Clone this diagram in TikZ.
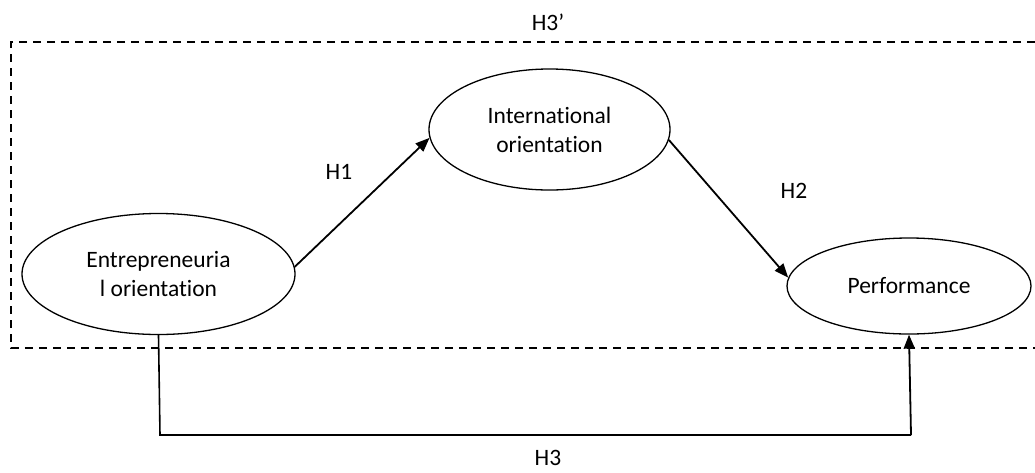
\documentclass[tikz,border=0pt]{standalone}
\usepackage{fontspec}
\setmainfont[Ligatures={NoCommon}]{Carlito}
\usetikzlibrary{shapes.geometric,arrows.meta}
\begin{document}
\begin{tikzpicture}[x=1pt,y=-1pt,
  construct/.style={ellipse,draw,line width=1.3pt,inner sep=0pt,align=center,
    font=\fontsize{23.5}{29}\selectfont},
  hlabel/.style={font=\fontsize{23.5}{28}\selectfont,inner sep=0pt},
  link/.style={line width=1.8pt,-{Triangle[length=14pt,width=11pt]}},
  frame/.style={line width=1.6pt,dash pattern=on 8pt off 6pt}]
\useasboundingbox (0,0) rectangle (1035,472);
\draw[frame] (1035,42) -- (11,42) -- (11,348) -- (1035,348);
\node[construct,minimum width=273pt,minimum height=121pt] (eo) at (158.5,274) {Entrepreneuria\\l orientation};
\node[construct,minimum width=241pt,minimum height=121pt] (io) at (549.5,129.5) {International\\orientation};
\node[construct,minimum width=244pt,minimum height=96pt] (perf) at (909,286) {Performance};
\draw[link] (eo.3) -- (io.184);
\draw[link] (io.-5) -- (perf.176);
\coordinate (c1) at (160,435);
\coordinate (c2) at (911,435);
\draw[line width=1.6pt] (eo.south) -- (c1) -- (c2);
\draw[link] (c2) -- (perf.south);
\node[hlabel] (l3p) at (548,22) {H3’};
\node[hlabel] (l1) at (339,172) {H1};
\node[hlabel] (l2) at (794,191) {H2};
\node[hlabel] (l3) at (548,458) {H3};
\end{tikzpicture}
\end{document}
